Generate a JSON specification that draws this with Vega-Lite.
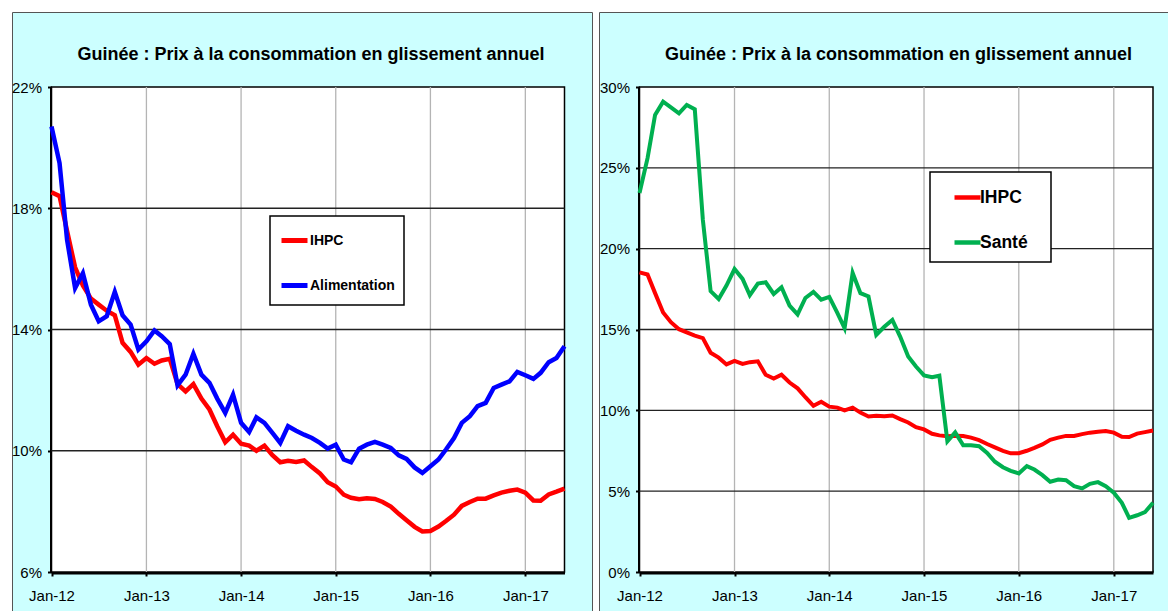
{
  "$schema": "https://vega.github.io/schema/vega-lite/v6.json",
  "background": "white",
  "padding": {"left": 10, "top": 11, "right": 0, "bottom": 0},
  "spacing": 7,
  "bounds": "flush",
  "resolve": {"scale": {"color": "independent"}, "legend": {"color": "independent"}},
  "config": {
    "view": {"fill": "#CCFFFF", "stroke": "#555555", "strokeWidth": 1},
    "font": "Liberation Sans, Arial, sans-serif",
    "axis": {
      "grid": false,
      "domainColor": "black",
      "domainWidth": 4,
      "tickColor": "black",
      "tickWidth": 2,
      "tickSize": 4,
      "labelFont": "Liberation Sans, Arial, sans-serif",
      "labelFontSize": 15,
      "labelColor": "black",
      "labelFlush": false,
      "labelOverlap": false,
      "zindex": 1
    },
    "axisX": {"labelPadding": 12},
    "axisY": {"labelPadding": 6},
    "legend": {"strokeWidth": 1.5}
  },
  "datasets": {
    "prix": [
      {"date": "2012-01-01", "IHPC": 18.53, "Alimentation": 20.70, "Santé": 23.44},
      {"date": "2012-02-01", "IHPC": 18.40, "Alimentation": 19.49, "Santé": 25.60},
      {"date": "2012-03-01", "IHPC": 17.25, "Alimentation": 16.96, "Santé": 28.27},
      {"date": "2012-04-01", "IHPC": 16.05, "Alimentation": 15.37, "Santé": 29.09},
      {"date": "2012-05-01", "IHPC": 15.45, "Alimentation": 15.86, "Santé": 28.74},
      {"date": "2012-06-01", "IHPC": 15.02, "Alimentation": 14.82, "Santé": 28.37},
      {"date": "2012-07-01", "IHPC": 14.82, "Alimentation": 14.27, "Santé": 28.89},
      {"date": "2012-08-01", "IHPC": 14.62, "Alimentation": 14.44, "Santé": 28.62},
      {"date": "2012-09-01", "IHPC": 14.47, "Alimentation": 15.24, "Santé": 21.79},
      {"date": "2012-10-01", "IHPC": 13.56, "Alimentation": 14.47, "Santé": 17.37},
      {"date": "2012-11-01", "IHPC": 13.26, "Alimentation": 14.16, "Santé": 16.89},
      {"date": "2012-12-01", "IHPC": 12.84, "Alimentation": 13.34, "Santé": 17.72},
      {"date": "2013-01-01", "IHPC": 13.06, "Alimentation": 13.61, "Santé": 18.74},
      {"date": "2013-02-01", "IHPC": 12.87, "Alimentation": 13.97, "Santé": 18.13},
      {"date": "2013-03-01", "IHPC": 12.98, "Alimentation": 13.78, "Santé": 17.12},
      {"date": "2013-04-01", "IHPC": 13.03, "Alimentation": 13.52, "Santé": 17.84},
      {"date": "2013-05-01", "IHPC": 12.20, "Alimentation": 12.16, "Santé": 17.92},
      {"date": "2013-06-01", "IHPC": 11.96, "Alimentation": 12.51, "Santé": 17.20},
      {"date": "2013-07-01", "IHPC": 12.20, "Alimentation": 13.20, "Santé": 17.61},
      {"date": "2013-08-01", "IHPC": 11.72, "Alimentation": 12.51, "Santé": 16.48},
      {"date": "2013-09-01", "IHPC": 11.36, "Alimentation": 12.24, "Santé": 15.93},
      {"date": "2013-10-01", "IHPC": 10.81, "Alimentation": 11.72, "Santé": 16.95},
      {"date": "2013-11-01", "IHPC": 10.28, "Alimentation": 11.25, "Santé": 17.33},
      {"date": "2013-12-01", "IHPC": 10.53, "Alimentation": 11.85, "Santé": 16.85},
      {"date": "2014-01-01", "IHPC": 10.23, "Alimentation": 10.92, "Santé": 17.02},
      {"date": "2014-02-01", "IHPC": 10.17, "Alimentation": 10.62, "Santé": 16.03},
      {"date": "2014-03-01", "IHPC": 10.00, "Alimentation": 11.10, "Santé": 15.08},
      {"date": "2014-04-01", "IHPC": 10.17, "Alimentation": 10.92, "Santé": 18.50},
      {"date": "2014-05-01", "IHPC": 9.86, "Alimentation": 10.60, "Santé": 17.25},
      {"date": "2014-06-01", "IHPC": 9.62, "Alimentation": 10.26, "Santé": 17.04},
      {"date": "2014-07-01", "IHPC": 9.67, "Alimentation": 10.81, "Santé": 14.66},
      {"date": "2014-08-01", "IHPC": 9.63, "Alimentation": 10.66, "Santé": 15.17},
      {"date": "2014-09-01", "IHPC": 9.68, "Alimentation": 10.53, "Santé": 15.59},
      {"date": "2014-10-01", "IHPC": 9.46, "Alimentation": 10.42, "Santé": 14.56},
      {"date": "2014-11-01", "IHPC": 9.25, "Alimentation": 10.26, "Santé": 13.33},
      {"date": "2014-12-01", "IHPC": 8.96, "Alimentation": 10.07, "Santé": 12.71},
      {"date": "2015-01-01", "IHPC": 8.82, "Alimentation": 10.20, "Santé": 12.16},
      {"date": "2015-02-01", "IHPC": 8.55, "Alimentation": 9.71, "Santé": 12.05},
      {"date": "2015-03-01", "IHPC": 8.45, "Alimentation": 9.62, "Santé": 12.14},
      {"date": "2015-04-01", "IHPC": 8.40, "Alimentation": 10.07, "Santé": 8.09},
      {"date": "2015-05-01", "IHPC": 8.43, "Alimentation": 10.20, "Santé": 8.64},
      {"date": "2015-06-01", "IHPC": 8.41, "Alimentation": 10.29, "Santé": 7.84},
      {"date": "2015-07-01", "IHPC": 8.31, "Alimentation": 10.20, "Santé": 7.84},
      {"date": "2015-08-01", "IHPC": 8.16, "Alimentation": 10.09, "Santé": 7.78},
      {"date": "2015-09-01", "IHPC": 7.92, "Alimentation": 9.85, "Santé": 7.37},
      {"date": "2015-10-01", "IHPC": 7.71, "Alimentation": 9.73, "Santé": 6.82},
      {"date": "2015-11-01", "IHPC": 7.49, "Alimentation": 9.45, "Santé": 6.48},
      {"date": "2015-12-01", "IHPC": 7.34, "Alimentation": 9.27, "Santé": 6.26},
      {"date": "2016-01-01", "IHPC": 7.35, "Alimentation": 9.49, "Santé": 6.10},
      {"date": "2016-02-01", "IHPC": 7.50, "Alimentation": 9.71, "Santé": 6.55},
      {"date": "2016-03-01", "IHPC": 7.68, "Alimentation": 10.04, "Santé": 6.34},
      {"date": "2016-04-01", "IHPC": 7.89, "Alimentation": 10.42, "Santé": 5.99},
      {"date": "2016-05-01", "IHPC": 8.18, "Alimentation": 10.92, "Santé": 5.58},
      {"date": "2016-06-01", "IHPC": 8.31, "Alimentation": 11.14, "Santé": 5.72},
      {"date": "2016-07-01", "IHPC": 8.42, "Alimentation": 11.47, "Santé": 5.68},
      {"date": "2016-08-01", "IHPC": 8.42, "Alimentation": 11.58, "Santé": 5.31},
      {"date": "2016-09-01", "IHPC": 8.53, "Alimentation": 12.07, "Santé": 5.17},
      {"date": "2016-10-01", "IHPC": 8.62, "Alimentation": 12.18, "Santé": 5.45},
      {"date": "2016-11-01", "IHPC": 8.68, "Alimentation": 12.29, "Santé": 5.56},
      {"date": "2016-12-01", "IHPC": 8.72, "Alimentation": 12.60, "Santé": 5.31},
      {"date": "2017-01-01", "IHPC": 8.62, "Alimentation": 12.49, "Santé": 4.90},
      {"date": "2017-02-01", "IHPC": 8.36, "Alimentation": 12.37, "Santé": 4.28},
      {"date": "2017-03-01", "IHPC": 8.35, "Alimentation": 12.57, "Santé": 3.35},
      {"date": "2017-04-01", "IHPC": 8.56, "Alimentation": 12.92, "Santé": 3.51},
      {"date": "2017-05-01", "IHPC": 8.65, "Alimentation": 13.06, "Santé": 3.70},
      {"date": "2017-06-01", "IHPC": 8.75, "Alimentation": 13.45, "Santé": 4.28}
    ]
  },
  "hconcat": [
    {
      "width": 580,
      "height": 600,
      "title": {"text": "Guinée : Prix à la consommation en glissement annuel", "font": "Liberation Sans, Arial, sans-serif", "fontSize": 18, "fontWeight": "bold", "color": "black", "anchor": "middle", "frame": "group", "offset": -52, "dx": 9},
      "layer": [
        {"data": {"values": [{}]}, "mark": {"type": "rect", "fill": "white", "stroke": "black", "strokeWidth": 1.5},
         "encoding": {
           "x": {"datum": {"year": 2012, "month": 1, "date": 1, "utc": true}, "type": "temporal", "title": null},
           "x2": {"datum": {"year": 2017, "month": 6, "date": 1, "utc": true}},
           "y": {"datum": 6, "type": "quantitative", "title": null},
           "y2": {"datum": 22}}},
        {"data": {"values": [{}]}, "mark": {"type": "rule", "color": "#B4B4B4", "strokeWidth": 1.3},
         "encoding": {"x": {"datum": {"year": 2013, "month": 1, "date": 1, "utc": true}, "type": "temporal", "title": null}, "y": {"datum": 6, "type": "quantitative", "title": null}, "y2": {"datum": 22}}},
        {"data": {"values": [{}]}, "mark": {"type": "rule", "color": "#B4B4B4", "strokeWidth": 1.3},
         "encoding": {"x": {"datum": {"year": 2014, "month": 1, "date": 1, "utc": true}, "type": "temporal", "title": null}, "y": {"datum": 6, "type": "quantitative", "title": null}, "y2": {"datum": 22}}},
        {"data": {"values": [{}]}, "mark": {"type": "rule", "color": "#B4B4B4", "strokeWidth": 1.3},
         "encoding": {"x": {"datum": {"year": 2015, "month": 1, "date": 1, "utc": true}, "type": "temporal", "title": null}, "y": {"datum": 6, "type": "quantitative", "title": null}, "y2": {"datum": 22}}},
        {"data": {"values": [{}]}, "mark": {"type": "rule", "color": "#B4B4B4", "strokeWidth": 1.3},
         "encoding": {"x": {"datum": {"year": 2016, "month": 1, "date": 1, "utc": true}, "type": "temporal", "title": null}, "y": {"datum": 6, "type": "quantitative", "title": null}, "y2": {"datum": 22}}},
        {"data": {"values": [{}]}, "mark": {"type": "rule", "color": "#B4B4B4", "strokeWidth": 1.3},
         "encoding": {"x": {"datum": {"year": 2017, "month": 1, "date": 1, "utc": true}, "type": "temporal", "title": null}, "y": {"datum": 6, "type": "quantitative", "title": null}, "y2": {"datum": 22}}},
        {"data": {"values": [{}]}, "mark": {"type": "rule", "color": "#222222", "strokeWidth": 1.3},
         "encoding": {"y": {"datum": 10, "type": "quantitative", "title": null}, "x": {"datum": {"year": 2012, "month": 1, "date": 1, "utc": true}, "type": "temporal", "title": null}, "x2": {"datum": {"year": 2017, "month": 6, "date": 1, "utc": true}}}},
        {"data": {"values": [{}]}, "mark": {"type": "rule", "color": "#222222", "strokeWidth": 1.3},
         "encoding": {"y": {"datum": 14, "type": "quantitative", "title": null}, "x": {"datum": {"year": 2012, "month": 1, "date": 1, "utc": true}, "type": "temporal", "title": null}, "x2": {"datum": {"year": 2017, "month": 6, "date": 1, "utc": true}}}},
        {"data": {"values": [{}]}, "mark": {"type": "rule", "color": "#222222", "strokeWidth": 1.3},
         "encoding": {"y": {"datum": 18, "type": "quantitative", "title": null}, "x": {"datum": {"year": 2012, "month": 1, "date": 1, "utc": true}, "type": "temporal", "title": null}, "x2": {"datum": {"year": 2017, "month": 6, "date": 1, "utc": true}}}},
        {
          "data": {"name": "prix"},
          "transform": [{"fold": ["IHPC", "Alimentation"], "as": ["serie", "valeur"]}],
          "mark": {"type": "line", "strokeWidth": 4.5},
          "encoding": {
            "x": {"field": "date", "type": "temporal",
              "scale": {"type": "utc", "domain": [{"year": 2012, "month": 1, "date": 1, "utc": true}, {"year": 2017, "month": 6, "date": 1, "utc": true}], "range": [39.5, 552.5]},
              "axis": {"title": null, "orient": "bottom", "offset": -40, "labelExpr": "utcFormat(datum.value, '%b-%y')",
                "values": [{"year": 2012, "month": 1, "date": 1, "utc": true}, {"year": 2013, "month": 1, "date": 1, "utc": true}, {"year": 2014, "month": 1, "date": 1, "utc": true}, {"year": 2015, "month": 1, "date": 1, "utc": true}, {"year": 2016, "month": 1, "date": 1, "utc": true}, {"year": 2017, "month": 1, "date": 1, "utc": true}]}},
            "y": {"field": "valeur", "type": "quantitative",
              "scale": {"domain": [6, 22], "range": [560, 75], "nice": false, "zero": false},
              "axis": {"title": null, "orient": "left", "offset": -39.5, "values": [6, 10, 14, 18, 22], "labelExpr": "datum.value + '%'"}},
            "color": {"field": "serie", "type": "nominal",
              "scale": {"domain": ["IHPC", "Alimentation"], "range": ["#FF0000", "#0000FF"]},
              "legend": {"orient": "none", "legendX": 258, "legendY": 204, "title": null, "strokeColor": "black", "fillColor": "white", "padding": 9, "symbolType": "stroke", "symbolSize": 676, "symbolStrokeWidth": 5, "labelFont": "Liberation Sans, Arial, sans-serif", "labelFontSize": 14, "labelFontWeight": "bold", "labelColor": "black", "rowPadding": 19, "labelOffset": 0}}
          }
        }
      ]
    },
    {
      "width": 571,
      "height": 600,
      "title": {"text": "Guinée : Prix à la consommation en glissement annuel", "font": "Liberation Sans, Arial, sans-serif", "fontSize": 18, "fontWeight": "bold", "color": "black", "anchor": "middle", "frame": "group", "offset": -52, "dx": 14},
      "layer": [
        {"data": {"values": [{}]}, "mark": {"type": "rect", "fill": "white", "stroke": "black", "strokeWidth": 1.5},
         "encoding": {
           "x": {"datum": {"year": 2012, "month": 1, "date": 1, "utc": true}, "type": "temporal", "title": null},
           "x2": {"datum": {"year": 2017, "month": 6, "date": 1, "utc": true}},
           "y": {"datum": 0, "type": "quantitative", "title": null},
           "y2": {"datum": 30}}},
        {"data": {"values": [{}]}, "mark": {"type": "rule", "color": "#B4B4B4", "strokeWidth": 1.3},
         "encoding": {"x": {"datum": {"year": 2013, "month": 1, "date": 1, "utc": true}, "type": "temporal", "title": null}, "y": {"datum": 0, "type": "quantitative", "title": null}, "y2": {"datum": 30}}},
        {"data": {"values": [{}]}, "mark": {"type": "rule", "color": "#B4B4B4", "strokeWidth": 1.3},
         "encoding": {"x": {"datum": {"year": 2014, "month": 1, "date": 1, "utc": true}, "type": "temporal", "title": null}, "y": {"datum": 0, "type": "quantitative", "title": null}, "y2": {"datum": 30}}},
        {"data": {"values": [{}]}, "mark": {"type": "rule", "color": "#B4B4B4", "strokeWidth": 1.3},
         "encoding": {"x": {"datum": {"year": 2015, "month": 1, "date": 1, "utc": true}, "type": "temporal", "title": null}, "y": {"datum": 0, "type": "quantitative", "title": null}, "y2": {"datum": 30}}},
        {"data": {"values": [{}]}, "mark": {"type": "rule", "color": "#B4B4B4", "strokeWidth": 1.3},
         "encoding": {"x": {"datum": {"year": 2016, "month": 1, "date": 1, "utc": true}, "type": "temporal", "title": null}, "y": {"datum": 0, "type": "quantitative", "title": null}, "y2": {"datum": 30}}},
        {"data": {"values": [{}]}, "mark": {"type": "rule", "color": "#B4B4B4", "strokeWidth": 1.3},
         "encoding": {"x": {"datum": {"year": 2017, "month": 1, "date": 1, "utc": true}, "type": "temporal", "title": null}, "y": {"datum": 0, "type": "quantitative", "title": null}, "y2": {"datum": 30}}},
        {"data": {"values": [{}]}, "mark": {"type": "rule", "color": "#222222", "strokeWidth": 1.3},
         "encoding": {"y": {"datum": 5, "type": "quantitative", "title": null}, "x": {"datum": {"year": 2012, "month": 1, "date": 1, "utc": true}, "type": "temporal", "title": null}, "x2": {"datum": {"year": 2017, "month": 6, "date": 1, "utc": true}}}},
        {"data": {"values": [{}]}, "mark": {"type": "rule", "color": "#222222", "strokeWidth": 1.3},
         "encoding": {"y": {"datum": 10, "type": "quantitative", "title": null}, "x": {"datum": {"year": 2012, "month": 1, "date": 1, "utc": true}, "type": "temporal", "title": null}, "x2": {"datum": {"year": 2017, "month": 6, "date": 1, "utc": true}}}},
        {"data": {"values": [{}]}, "mark": {"type": "rule", "color": "#222222", "strokeWidth": 1.3},
         "encoding": {"y": {"datum": 15, "type": "quantitative", "title": null}, "x": {"datum": {"year": 2012, "month": 1, "date": 1, "utc": true}, "type": "temporal", "title": null}, "x2": {"datum": {"year": 2017, "month": 6, "date": 1, "utc": true}}}},
        {"data": {"values": [{}]}, "mark": {"type": "rule", "color": "#222222", "strokeWidth": 1.3},
         "encoding": {"y": {"datum": 20, "type": "quantitative", "title": null}, "x": {"datum": {"year": 2012, "month": 1, "date": 1, "utc": true}, "type": "temporal", "title": null}, "x2": {"datum": {"year": 2017, "month": 6, "date": 1, "utc": true}}}},
        {"data": {"values": [{}]}, "mark": {"type": "rule", "color": "#222222", "strokeWidth": 1.3},
         "encoding": {"y": {"datum": 25, "type": "quantitative", "title": null}, "x": {"datum": {"year": 2012, "month": 1, "date": 1, "utc": true}, "type": "temporal", "title": null}, "x2": {"datum": {"year": 2017, "month": 6, "date": 1, "utc": true}}}},
        {
          "data": {"name": "prix"},
          "transform": [{"fold": ["IHPC", "Santé"], "as": ["serie", "valeur"]}],
          "mark": {"type": "line", "strokeWidth": 4},
          "encoding": {
            "x": {"field": "date", "type": "temporal",
              "scale": {"type": "utc", "domain": [{"year": 2012, "month": 1, "date": 1, "utc": true}, {"year": 2017, "month": 6, "date": 1, "utc": true}], "range": [40.5, 554]},
              "axis": {"title": null, "orient": "bottom", "offset": -40, "labelExpr": "utcFormat(datum.value, '%b-%y')",
                "values": [{"year": 2012, "month": 1, "date": 1, "utc": true}, {"year": 2013, "month": 1, "date": 1, "utc": true}, {"year": 2014, "month": 1, "date": 1, "utc": true}, {"year": 2015, "month": 1, "date": 1, "utc": true}, {"year": 2016, "month": 1, "date": 1, "utc": true}, {"year": 2017, "month": 1, "date": 1, "utc": true}]}},
            "y": {"field": "valeur", "type": "quantitative",
              "scale": {"domain": [0, 30], "range": [560, 75], "nice": false, "zero": false},
              "axis": {"title": null, "orient": "left", "offset": -40.5, "values": [0, 5, 10, 15, 20, 25, 30], "labelExpr": "datum.value + '%'"}},
            "color": {"field": "serie", "type": "nominal",
              "scale": {"domain": ["IHPC", "Santé"], "range": ["#FF0000", "#00B050"]},
              "legend": {"orient": "none", "legendX": 331, "legendY": 160, "title": null, "strokeColor": "black", "fillColor": "white", "padding": 10, "symbolOffset": 12, "symbolType": "stroke", "symbolSize": 676, "symbolStrokeWidth": 4.5, "labelFont": "Liberation Sans, Arial, sans-serif", "labelFontSize": 17.5, "labelFontWeight": "bold", "labelColor": "black", "rowPadding": 20, "labelOffset": -3, "labelExpr": "datum.label + '\u2800'"}}
          }
        }
      ]
    }
  ]
}
